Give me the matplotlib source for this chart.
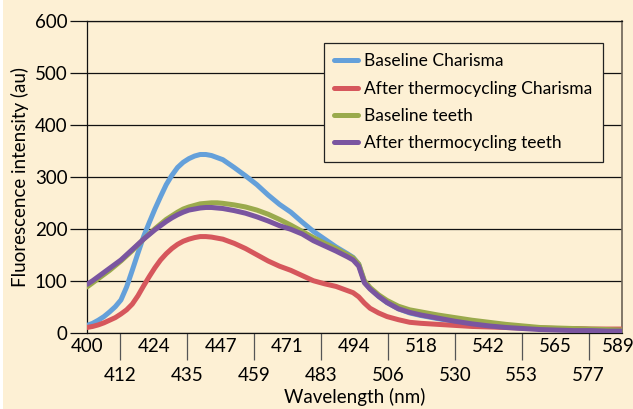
import matplotlib
matplotlib.use("Agg")
import matplotlib.pyplot as plt
import matplotlib.transforms as mtransforms
from matplotlib.patches import Rectangle

# ── data ───────────────────────────────────────────────────────────────
wavelength = [400, 402, 404, 406, 408, 410, 412, 414, 416, 418, 420, 422, 424,
              426, 428, 430, 432, 434, 436, 438, 440, 442, 444, 446, 448,
              452, 456, 460, 464, 468, 472, 476, 480, 484, 488, 492, 494, 496,
              497, 498, 500, 503, 506, 510, 514, 518, 524, 530, 536, 542, 548,
              554, 560, 566, 572, 578, 584, 589]

baseline_charisma = [14, 18, 24, 31, 40, 50, 63, 88, 120, 153, 185, 212, 238,
                     262, 285, 303, 318, 328, 335, 340, 343, 343, 341, 337, 333,
                     318, 302, 285, 265, 247, 232, 213, 195, 180, 165, 152, 145, 132,
                     115, 98, 85, 70, 58, 46, 38, 33, 27, 22, 17, 13, 11,
                     9, 8, 7, 7, 6, 6, 5]

after_charisma = [10, 12, 15, 19, 24, 29, 36, 44, 55, 71, 90, 108, 125,
                  140, 152, 162, 170, 176, 180, 183, 185, 185, 184, 182, 180,
                  172, 162, 150, 138, 128, 120, 110, 100, 94, 89, 81, 77, 69,
                  63, 57, 47, 38, 31, 25, 20, 18, 16, 14, 12, 11, 10,
                  9, 9, 8, 8, 7, 7, 7]

baseline_teeth = [88, 96, 104, 112, 120, 129, 138, 148, 158, 169, 180, 190, 200,
                  209, 218, 225, 232, 238, 242, 245, 248, 249, 250, 250, 249,
                  246, 242, 236, 228, 218, 207, 195, 183, 172, 162, 150, 144, 132,
                  116, 100, 87, 73, 62, 51, 44, 40, 34, 29, 24, 20, 16,
                  13, 10, 9, 8, 7, 6, 5]

after_teeth = [93, 100, 108, 116, 124, 132, 140, 150, 160, 170, 180, 189, 198,
               206, 214, 221, 227, 232, 236, 238, 240, 241, 241, 240, 239,
               235, 230, 223, 215, 206, 199, 190, 177, 167, 157, 146, 140, 128,
               112, 96, 84, 70, 58, 46, 39, 34, 28, 22, 17, 13, 10,
               8, 6, 5, 4, 4, 3, 3]

series_labels = ["Baseline Charisma", "After thermocycling Charisma",
                 "Baseline teeth", "After thermocycling teeth"]
series_colors = ["#64A0DA", "#D6575C", "#9AAA4C", "#7A55A0"]

xtick_labels = ["400", "412", "424", "435", "447", "459", "471", "483", "494",
                "506", "518", "530", "542", "553", "565", "577", "589"]
yticks = [0, 100, 200, 300, 400, 500, 600]

BG = "#FDF0D4"
plt.rcParams["font.family"] = ["Lato", "DejaVu Sans"]

fig = plt.figure(figsize=(6.33, 4.09), dpi=100, facecolor=BG)
# thin white margin at the left edge, as in the reference
fig.patches.append(Rectangle((0, 0), 3 / 633, 1, transform=fig.transFigure,
                             facecolor="white", edgecolor="none", zorder=-1))

ax = fig.add_axes([0.1374, 0.1866, 0.8452, 0.7621])
ax.set_facecolor(BG)

for vals, lab, col in zip([baseline_charisma, after_charisma, baseline_teeth, after_teeth],
                          series_labels, series_colors):
    ax.plot(wavelength, vals, color=col, lw=3.6, label=lab,
            solid_capstyle="round", solid_joinstyle="round", zorder=3)

ax.set_xlim(400, 589)
ax.set_ylim(0, 600)

# horizontal grid
ax.set_yticks(yticks)
ax.set_yticklabels([str(v) for v in yticks], fontsize=13.5)
ax.yaxis.grid(True, color="#111111", lw=0.9)
ax.tick_params(axis="y", length=12, width=0.9, color="#111111", pad=2)

# staggered x tick labels: even ones on top row, odd ones below long ticks
step = (589 - 400) / 16
pos = [400 + i * step for i in range(17)]
ax.set_xticks(pos[0::2])
ax.set_xticklabels(xtick_labels[0::2], fontsize=13.5)
ax.set_xticks(pos[1::2], minor=True)
ax.set_xticklabels(xtick_labels[1::2], minor=True, fontsize=13.5)
ax.tick_params(axis="x", which="major", length=0, pad=4)
ax.tick_params(axis="x", which="minor", length=19.5, width=0.9,
               color="#555555", pad=5)

# last label sits a little to the left so it stays inside the picture
last = ax.get_xticklabels()[-1]
last.set_transform(last.get_transform() +
                   mtransforms.ScaledTranslation(-4 / 100, 0, fig.dpi_scale_trans))

for side in ["left", "bottom", "top"]:
    ax.spines[side].set_color("#111111")
    ax.spines[side].set_linewidth(0.9)
ax.spines["right"].set_color("#6b6255")
ax.spines["right"].set_linewidth(1.2)

ax.set_xlabel("Wavelength (nm)", fontsize=13.5, labelpad=3)
ax.set_ylabel("Fluorescence intensity (au)", fontsize=13.5, labelpad=4)

leg = ax.legend(loc="upper right", bbox_to_anchor=(0.9645, 0.9294),
                borderaxespad=0, fontsize=12.5, frameon=True, fancybox=False,
                facecolor=BG, edgecolor="#222222", framealpha=1,
                handlelength=1.4, handletextpad=0.35, labelspacing=0.65,
                borderpad=0.6)
leg.get_frame().set_linewidth(0.9)
leg.set_zorder(5)

fig.savefig("out.png", dpi=100, facecolor=BG)
